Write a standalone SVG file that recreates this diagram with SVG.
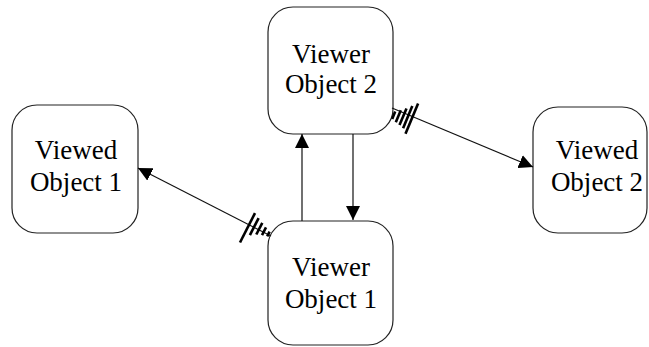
<svg xmlns="http://www.w3.org/2000/svg" width="649" height="347" viewBox="0 0 649 347">
<defs>
<style>
.box{fill:#fff;stroke:#222;stroke-width:1.2}
.ln{stroke:#111;stroke-width:1.2;fill:none}
.hash{stroke:#000;stroke-width:2.6;stroke-linecap:butt}
</style>
<marker id="ah" viewBox="0 0 14 14" refX="14" refY="7" markerWidth="14" markerHeight="14" markerUnits="userSpaceOnUse" orient="auto">
<path d="M0,0 L14,7 L0,14 Z" fill="#000"/>
</marker>
</defs>
<rect width="649" height="347" fill="#fff"/>
<g id="viewed1">
<rect class="box" x="12" y="105" width="126" height="128" rx="25" ry="25"/>
<text x="76" y="159" font-family="Liberation Serif, serif" font-size="27" text-anchor="middle">Viewed</text>
<text x="76" y="191" font-family="Liberation Serif, serif" font-size="27" text-anchor="middle">Object 1</text>
</g>
<g id="viewer2">
<rect class="box" x="268" y="7" width="125" height="127" rx="25" ry="25"/>
<text x="331" y="63" font-family="Liberation Serif, serif" font-size="27" text-anchor="middle">Viewer</text>
<text x="331" y="93" font-family="Liberation Serif, serif" font-size="27" text-anchor="middle">Object 2</text>
</g>
<g id="viewer1">
<rect class="box" x="268" y="221" width="125" height="124" rx="25" ry="25"/>
<text x="331" y="276" font-family="Liberation Serif, serif" font-size="27" text-anchor="middle">Viewer</text>
<text x="331" y="308" font-family="Liberation Serif, serif" font-size="27" text-anchor="middle">Object 1</text>
</g>
<g id="viewed2">
<rect class="box" x="533" y="107" width="114" height="126" rx="25" ry="25"/>
<text x="597" y="159" font-family="Liberation Serif, serif" font-size="27" text-anchor="middle">Viewed</text>
<text x="597" y="191" font-family="Liberation Serif, serif" font-size="27" text-anchor="middle">Object 2</text>
</g>
<g id="connectors">
<line class="ln" x1="302" y1="221" x2="302" y2="134" marker-end="url(#ah)"/>
<line class="ln" x1="353" y1="134" x2="353" y2="220" marker-end="url(#ah)"/>
<line class="ln" x1="271" y1="236" x2="138" y2="168" marker-end="url(#ah)"/>
<line class="ln" x1="392" y1="108" x2="533" y2="167" marker-end="url(#ah)"/>
<g id="hash-left">
<line class="hash" x1="255.0" y1="213.1" x2="240.0" y2="242.5"/>
<line class="hash" x1="258.6" y1="218.1" x2="249.9" y2="235.1"/>
<line class="hash" x1="262.3" y1="222.9" x2="256.3" y2="234.5"/>
<line class="hash" x1="266.0" y1="227.3" x2="262.0" y2="235.1"/>
<line class="hash" x1="269.6" y1="231.6" x2="267.2" y2="236.4"/>
</g>
<g id="hash-right">
<line class="hash" x1="418.1" y1="103.6" x2="405.5" y2="133.8"/>
<line class="hash" x1="412.3" y1="106.0" x2="403.1" y2="128.2"/>
<line class="hash" x1="406.5" y1="108.4" x2="399.5" y2="125.0"/>
<line class="hash" x1="400.8" y1="110.2" x2="395.8" y2="122.2"/>
<line class="hash" x1="395.2" y1="111.6" x2="392.2" y2="119.0"/>
</g>
</g>
</svg>
